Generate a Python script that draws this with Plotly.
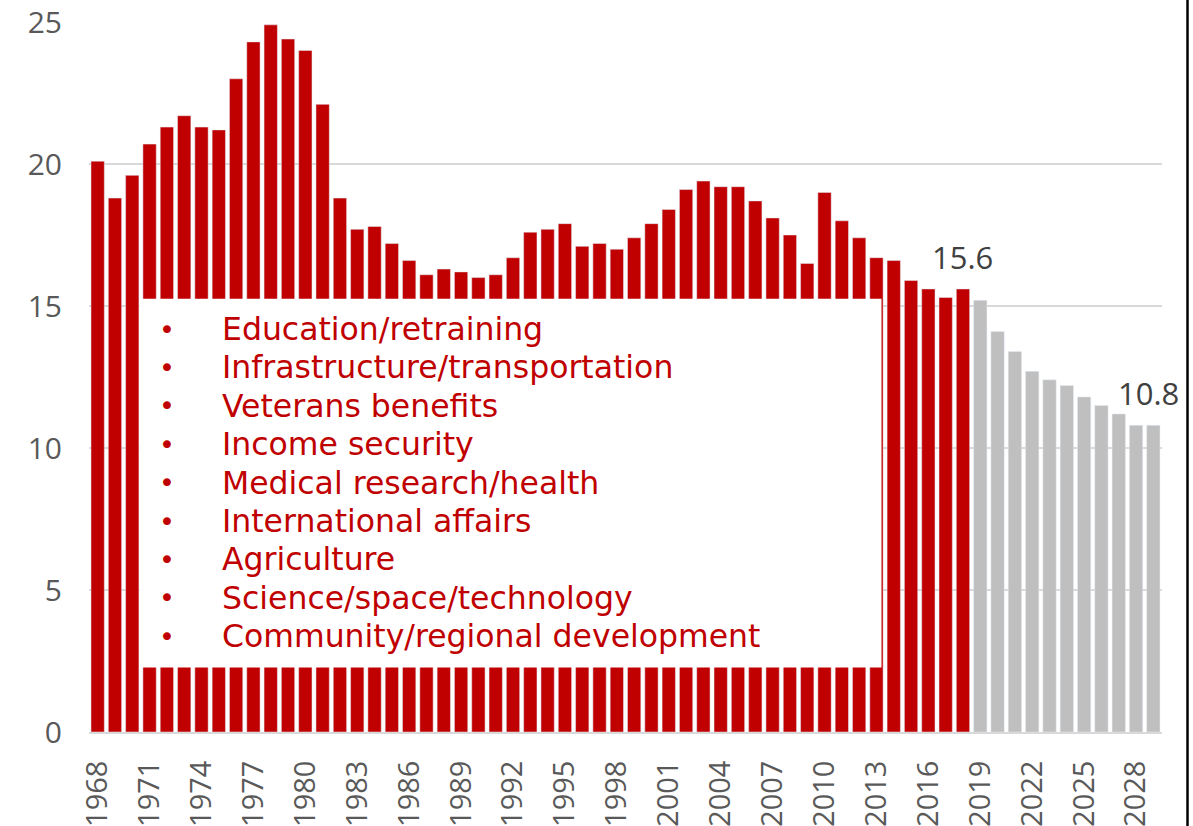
import plotly.graph_objects as go

years = list(range(1968, 2030))
actual_values = [20.1, 18.8, 19.6, 20.7, 21.3, 21.7, 21.3, 21.2, 23.0, 24.3, 24.9, 24.4, 24.0,
                 22.1, 18.8, 17.7, 17.8, 17.2, 16.6, 16.1, 16.3, 16.2, 16.0, 16.1, 16.7, 17.6,
                 17.7, 17.9, 17.1, 17.2, 17.0, 17.4, 17.9, 18.4, 19.1, 19.4, 19.2, 19.2, 18.7,
                 18.1, 17.5, 16.5, 19.0, 18.0, 17.4, 16.7, 16.6, 15.9, 15.6, 15.3, 15.6]
projected_values = [15.2, 14.1, 13.4, 12.7, 12.4, 12.2, 11.8, 11.5, 11.2, 10.8, 10.8]
actual_years = years[:len(actual_values)]
projected_years = years[len(actual_values):]
tick_years = list(range(1968, 2030, 3))
categories = ["Education/retraining", "Infrastructure/transportation", "Veterans benefits",
              "Income security", "Medical research/health", "International affairs",
              "Agriculture", "Science/space/technology", "Community/regional development"]

RED = "#C00000"
GRAY = "#BFBFBF"
FONT = "Open Sans"
LFONT = "DejaVu Sans"
W, H = 1193, 826
ML, MR, MT, MB = 89, 31, 22, 94
PW = W - ML - MR
PH = H - MT - MB

fig = go.Figure()
fig.add_trace(go.Bar(x=actual_years, y=actual_values, marker_color=RED, showlegend=False))
fig.add_trace(go.Bar(x=projected_years, y=projected_values, marker_color=GRAY, showlegend=False))


def px_to_x(p):
    return (p - ML) / PW


def px_to_y(p):
    return 1 - (p - MT) / PH


shapes = [
    dict(type="rect", xref="paper", yref="paper", layer="above",
         x0=px_to_x(139.5), x1=px_to_x(881.5), y0=px_to_y(667.5), y1=px_to_y(298.7),
         fillcolor="white", line=dict(width=0)),
    dict(type="line", xref="paper", yref="paper",
         x0=px_to_x(1187.5), x1=px_to_x(1187.5), y0=px_to_y(826), y1=px_to_y(0),
         line=dict(color="black", width=2.5)),
]

annotations = []
for i, name in enumerate(categories):
    yc = 329 + i * 38.4
    annotations.append(dict(xref="paper", yref="paper", x=px_to_x(167), y=px_to_y(yc),
                            text="•", showarrow=False, xanchor="center", yanchor="middle",
                            font=dict(family=LFONT, size=27, color=RED)))
    annotations.append(dict(xref="paper", yref="paper", x=px_to_x(220), y=px_to_y(yc),
                            text=name, showarrow=False, xanchor="left", yanchor="middle",
                            font=dict(family=LFONT, size=31.5, color=RED)))

annotations.append(dict(x=actual_years[-1], y=actual_values[-1], text=f"{actual_values[-1]:.1f}",
                        showarrow=False, yanchor="bottom", yshift=9,
                        font=dict(family=FONT, size=31, color="#404040")))
annotations.append(dict(x=projected_years[-1], y=projected_values[-1], text=f"{projected_values[-1]:.1f}",
                        showarrow=False, yanchor="bottom", yshift=9, xshift=-5,
                        font=dict(family=FONT, size=31, color="#404040")))

fig.update_layout(
    width=W, height=H,
    margin=dict(l=ML, r=MR, t=MT, b=MB, autoexpand=False),
    paper_bgcolor="white", plot_bgcolor="white",
    bargap=0.23,
    barmode="overlay",
    shapes=shapes,
    annotations=annotations,
    font=dict(family=FONT, color="#595959"),
)
fig.update_xaxes(range=[1967.5, 2029.5], tickmode="array", tickvals=tick_years,
                 ticktext=[str(y) for y in tick_years], tickangle=-90,
                 tickfont=dict(size=29, color="#595959", family=FONT),
                 showgrid=False, showline=True, linecolor="#D9D9D9", linewidth=2,
                 ticks="", ticklabelstandoff=15, zeroline=False, automargin=False)
fig.update_yaxes(range=[0, 25], tickvals=[0, 5, 10, 15, 20, 25],
                 tickfont=dict(size=30, color="#595959", family=FONT),
                 showgrid=True, gridcolor="#D9D9D9", gridwidth=2,
                 zeroline=False, showline=False, ticks="", ticklabelstandoff=26, automargin=False)

fig.write_html("out.html")
